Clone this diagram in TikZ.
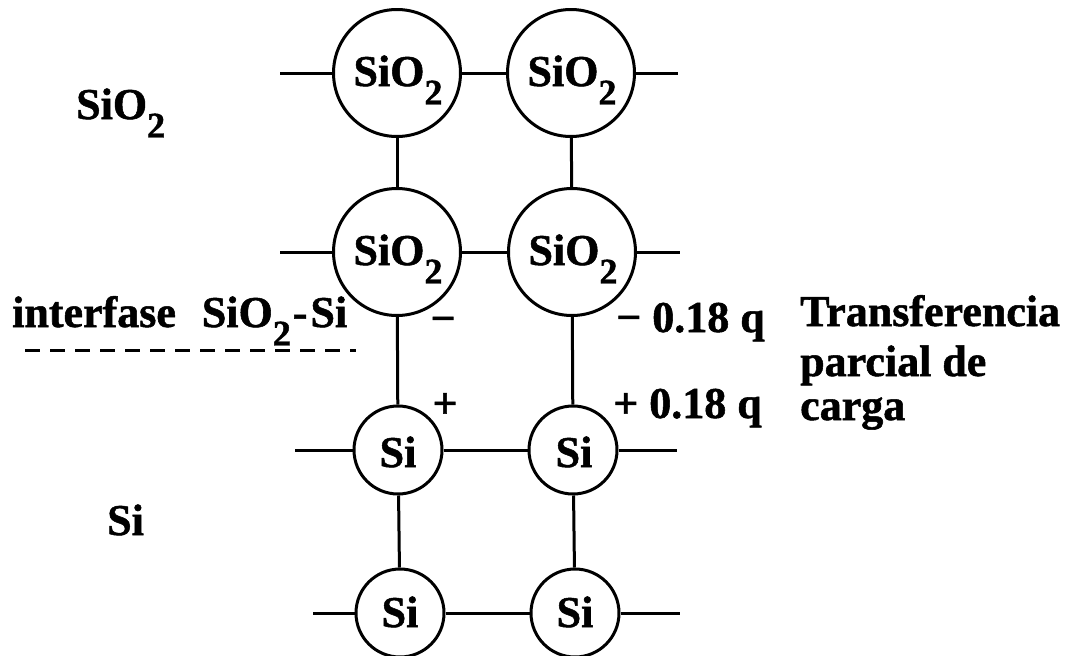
\documentclass[tikz,border=0pt]{standalone}
\usepackage{fontspec}
\setmainfont{Liberation Serif}[FakeBold=1.2]
\newcommand\subx[1]{\raisebox{-0.42em}{\fontsize{36}{38}\selectfont #1}}
\begin{document}
\begin{tikzpicture}[x=1pt,y=-1pt,
  atom/.style={circle, draw, line width=3pt, inner sep=0pt},
  big/.style={atom, minimum size=127pt},
  small/.style={atom, minimum size=88pt},
  bond/.style={line width=3pt},
  txt/.style={inner sep=0pt, font=\fontsize{44}{50}\selectfont\bfseries}]
\useasboundingbox (0,0) rectangle (1077,656);
% atoms
\node[big] (a1) at (397,73) {};
\node[big] (a2) at (571,73) {};
\node[big] (b1) at (397,252) {};
\node[big] (b2) at (572,252) {};
\node[small] (c1) at (398,450) {};
\node[small] (c2) at (573,450) {};
\node[small] (d1) at (400,613) {};
\node[small] (d2) at (575,613) {};
% atom labels
\node[txt, anchor=base] (la1) at (398,86) {SiO\subx{2}};
\node[txt, anchor=base] (la2) at (572,86) {SiO\subx{2}};
\node[txt, anchor=base] (lb1) at (398,265) {SiO\subx{2}};
\node[txt, anchor=base] (lb2) at (573,265) {SiO\subx{2}};
\node[txt, anchor=base] (lc1) at (398,467) {Si};
\node[txt, anchor=base] (lc2) at (574,467) {Si};
\node[txt, anchor=base] (ld1) at (400,627) {Si};
\node[txt, anchor=base] (ld2) at (575,627) {Si};
% stub ends
\coordinate (a0) at (280,73);
\coordinate (a3) at (678,73);
\coordinate (b0) at (280,252);
\coordinate (b3) at (680,252);
\coordinate (c0) at (295,450);
\coordinate (c3) at (677,450);
\coordinate (d0) at (313,613);
\coordinate (d3) at (680,613);
% bonds
\draw[bond] (a0) -- (a1) -- (a2) -- (a3);
\draw[bond] (b0) -- (b1) -- (b2) -- (b3);
\draw[bond] (c0) -- (c1) -- (c2) -- (c3);
\draw[bond] (d0) -- (d1) -- (d2) -- (d3);
\draw[bond] (a1) -- (b1);
\draw[bond] (a2) -- (b2);
\draw[bond] (b1) -- (c1);
\draw[bond] (b2) -- (c2);
\draw[bond] (c1) -- (d1);
\draw[bond] (c2) -- (d2);
% interface
\coordinate (i0) at (25,350);
\coordinate (i1) at (356,350);
\draw[line width=3pt, dash pattern=on 15pt off 10pt] (i0) -- (i1);
% texts
\node[txt, anchor=base west] (tox) at (76,119) {SiO\subx{2}};
\node[txt, anchor=base west] (tint) at (12,327) {interfase\hspace{26pt}SiO\subx{2}\kern2pt-\kern3ptSi};
\node[txt, anchor=base west] (tsi) at (107,535) {Si};
\node[txt, anchor=base] (tminus) at (443,333) {−};
\node[txt, anchor=base] (tplus) at (445,418) {+};
\node[txt, anchor=base west] (tq1) at (616,332) {− 0.18 q};
\node[txt, anchor=base west] (tq2) at (613,418) {+ 0.18 q};
\node[txt, anchor=base west] (tt1) at (800,326) {Transferencia};
\node[txt, anchor=base west] (tt2) at (800,376) {parcial de};
\node[txt, anchor=base west] (tt3) at (800,420) {carga};
\end{tikzpicture}
\end{document}
